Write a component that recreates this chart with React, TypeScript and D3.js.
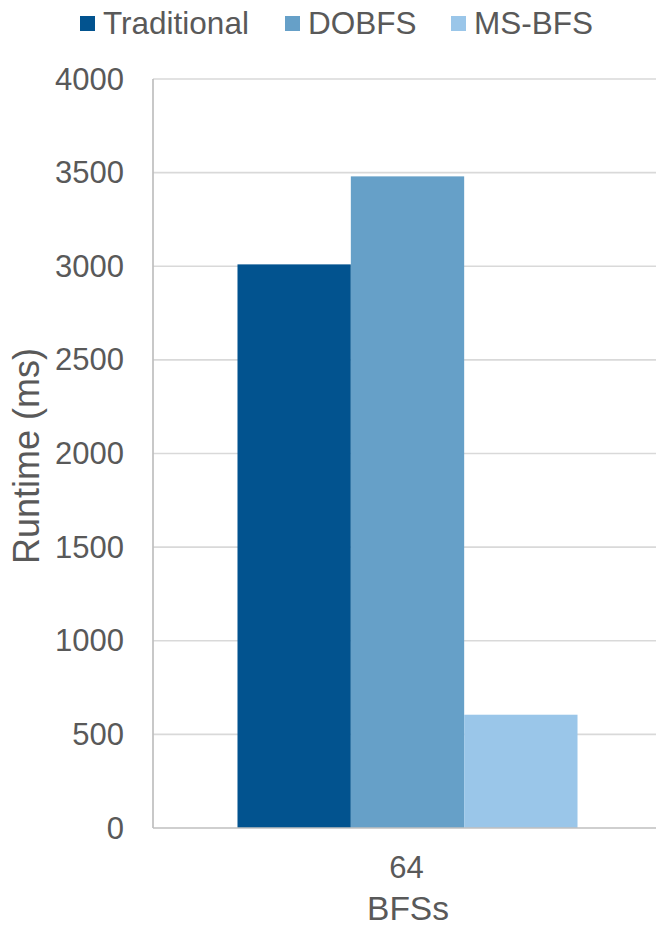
import React from "react";
import * as d3 from "d3";

const categories = ["64"];
const seriesNames = ["Traditional", "DOBFS", "MS-BFS"];
const traditional = [3010];
const dobfs = [3480];
const msbfs = [605];
const yTicks = [0, 500, 1000, 1500, 2000, 2500, 3000, 3500, 4000];
const colors = ["#02538f", "#66a0c8", "#9ac6e9"];

const W = 656;
const H = 927;
const M = { left: 153, right: 662, top: 79, bottom: 828 };
const FONT = "'Liberation Sans', Arial, sans-serif";
const TXT = "#595959";

export default function App() {
  const seriesValues = [traditional, dobfs, msbfs];
  const x0 = d3.scaleBand<string>().domain(categories).range([M.left, M.right]).paddingInner(0).paddingOuter(0.2485);
  const x1 = d3.scaleBand<string>().domain(seriesNames).range([0, x0.bandwidth()]).padding(0);
  const y = d3.scaleLinear().domain([0, 4000]).range([M.bottom, M.top]);
  const legendX = [80, 285, 451];

  return (
    <svg width={W} height={H} style={{ position: "absolute", left: 0, top: 0, background: "#fff" }} fontFamily={FONT}>
      {yTicks.map((t) => (
        <g key={t}>
          {t > 0 && <line x1={M.left} x2={W} y1={y(t)} y2={y(t)} stroke="#d9d9d9" strokeWidth={1.7} />}
          <text x={124} y={y(t)} textAnchor="end" dominantBaseline="central" fontSize={31} fill={TXT}>
            {t}
          </text>
        </g>
      ))}
      {categories.map((c, ci) => (
        <g key={c}>
          {seriesNames.map((s, si) => {
            const v = seriesValues[si][ci];
            return (
              <rect
                key={s}
                x={(x0(c) as number) + (x1(s) as number)}
                y={y(v)}
                width={x1.bandwidth()}
                height={y(0) - y(v)}
                fill={colors[si]}
              />
            );
          })}
          <text x={(x0(c) as number) + x0.bandwidth() / 2 - 1} y={878} textAnchor="middle" fontSize={31} fill={TXT}>
            {c}
          </text>
        </g>
      ))}
      <line x1={M.left} x2={M.left} y1={M.top} y2={M.bottom} stroke="#bfbfbf" strokeWidth={1.7} />
      <line x1={M.left} x2={W} y1={M.bottom} y2={M.bottom} stroke="#bfbfbf" strokeWidth={1.7} />
      <text x={408} y={920} textAnchor="middle" fontSize={33.5} fill={TXT}>
        BFSs
      </text>
      <text transform="translate(39,456) rotate(-90)" textAnchor="middle" fontSize={36} fill={TXT}>
        Runtime (ms)
      </text>
      {seriesNames.map((s, i) => (
        <g key={s}>
          <rect x={legendX[i]} y={16} width={15} height={15} fill={colors[i]} />
          <text x={legendX[i] + 23} y={33.5} fontSize={31.5} fill={TXT}>
            {s}
          </text>
        </g>
      ))}
    </svg>
  );
}
